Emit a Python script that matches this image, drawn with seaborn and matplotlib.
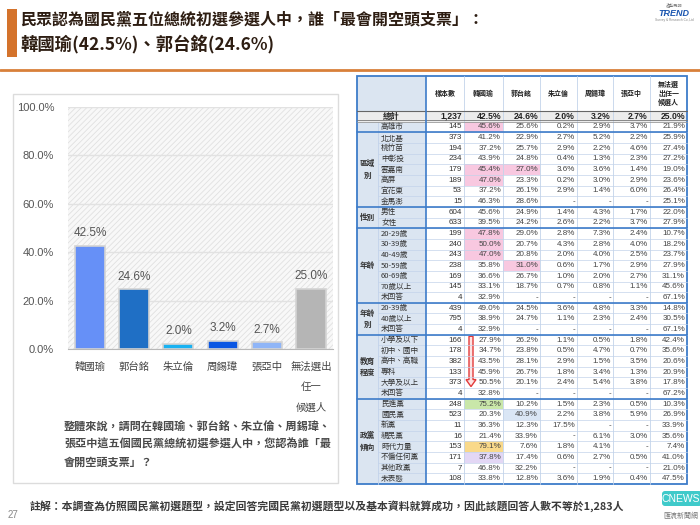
import matplotlib
matplotlib.use("Agg")
import matplotlib.pyplot as plt
import seaborn as sns
import pandas as pd
from matplotlib.patches import Rectangle, FancyBboxPatch, FancyArrow

# ---------------- data ----------------
candidates = ["韓國瑜", "郭台銘", "朱立倫", "周錫瑋", "張亞中", "無法選出\n任一\n候選人"]
shares = [42.5, 24.6, 2.0, 3.2, 2.7, 25.0]
bar_colors = ["#6690f7", "#1f6fc5", "#19b2f2", "#0b57e3", "#8fb5f7", "#b5b5b5"]
y_ticks = [0, 20, 40, 60, 80, 100]

table_header = ["樣本數", "韓國瑜", "郭台銘", "朱立倫", "周錫瑋", "張亞中", "無法選\n出任一\n候選人"]
total_n = "1,237"
group_labels = ["", "區域\n別", "性別", "年齡", "年齡\n別", "教育\n程度", "政黨\n傾向"]
group_sizes = [1, 7, 2, 7, 3, 6, 8]
row_labels = ["高雄市", "北北基", "桃竹苗", "中彰投", "雲嘉南", "高屏", "宜花東", "金馬澎",
              "男性", "女性",
              "20-29歲", "30-39歲", "40-49歲", "50-59歲", "60-69歲", "70歲以上", "未回答",
              "20-39歲", "40歲以上", "未回答",
              "小學及以下", "初中、國中", "高中、高職", "專科", "大學及以上", "未回答",
              "民進黨", "國民黨", "新黨", "親民黨", "時代力量", "不偏任何黨", "其他政黨", "未表態"]
sample_n = [145, 373, 194, 234, 179, 189, 53, 15,
            604, 633,
            199, 240, 243, 238, 169, 145, 4,
            439, 795, 4,
            166, 178, 382, 133, 373, 4,
            248, 523, 11, 16, 153, 171, 7, 108]
pct_han = [45.6, 41.2, 37.2, 43.9, 45.4, 47.0, 37.2, 46.3,
           45.6, 39.5,
           47.8, 50.0, 47.0, 35.8, 36.6, 33.1, 32.9,
           49.0, 38.9, 32.9,
           27.9, 34.7, 43.5, 45.9, 50.5, 32.8,
           75.2, 20.3, 36.3, 21.4, 79.1, 37.8, 46.8, 33.8]
pct_guo = [25.6, 22.9, 25.7, 24.8, 27.0, 23.3, 26.1, 28.6,
           24.9, 24.2,
           29.0, 20.7, 20.8, 31.0, 26.7, 18.7, None,
           24.5, 24.7, None,
           26.2, 23.8, 28.1, 26.7, 20.1, None,
           10.2, 40.9, 12.3, 33.9, 7.6, 17.4, 32.2, 12.8]
pct_zhu = [0.2, 2.7, 2.9, 0.4, 3.6, 0.2, 2.9, None,
           1.4, 2.6,
           2.8, 4.3, 2.0, 0.6, 1.0, 0.7, None,
           3.6, 1.1, None,
           1.1, 0.5, 2.9, 1.8, 2.4, None,
           1.5, 2.2, 17.5, None, 1.8, 0.6, None, 3.6]
pct_zhou = [2.9, 5.2, 2.2, 1.3, 3.6, 3.0, 1.4, None,
            4.3, 2.2,
            7.3, 2.8, 4.0, 1.7, 2.0, 0.8, None,
            4.8, 2.3, None,
            0.5, 4.7, 1.5, 3.4, 5.4, None,
            2.3, 3.8, None, 6.1, 4.1, 2.7, None, 1.9]
pct_zhang = [3.7, 2.2, 4.6, 2.3, 1.4, 2.9, 6.0, None,
             1.7, 3.7,
             2.4, 4.0, 2.5, 2.9, 2.7, 1.1, None,
             3.3, 2.4, None,
             1.8, 0.7, 3.5, 1.3, 3.8, None,
             0.5, 5.9, None, 3.0, None, 0.5, None, 0.4]
pct_none = [21.9, 25.9, 27.4, 27.2, 19.0, 23.6, 26.4, 25.1,
            22.0, 27.9,
            10.7, 18.2, 23.7, 27.9, 31.1, 45.6, 67.1,
            14.8, 30.5, 67.1,
            42.4, 35.6, 20.6, 20.9, 17.8, 67.2,
            10.3, 26.9, 33.9, 35.6, 7.4, 41.0, 21.0, 47.5]
# highlighted cells: (row index, percentage column index) -> colour
highlights = {(0, 0): "#f8c8e0", (4, 0): "#f8c8e0", (4, 1): "#f8c8e0", (5, 0): "#f8c8e0",
              (10, 0): "#f8c8e0", (11, 0): "#f8c8e0", (12, 0): "#f8c8e0", (13, 1): "#f8c8e0",
              (26, 0): "#c9e7a9", (27, 1): "#dae6f5", (30, 0): "#f9d98a", (31, 0): "#e3d7f5"}

title_1 = "民眾認為國民黨五位總統初選參選人中，誰「最會開空頭支票」："
title_2 = "韓國瑜(42.5%)、郭台銘(24.6%)"
question = ["整體來說，請問在韓國瑜、郭台銘、朱立倫、周錫瑋、",
            "張亞中這五個國民黨總統初選參選人中，您認為誰「最",
            "會開空頭支票」？"]
footnote = "註解：本調查為仿照國民黨初選題型，設定回答完國民黨初選題型以及基本資料就算成功，因此該題回答人數不等於1,283人"

# ---------------- style ----------------
sns.set_style("white")
CJK = "Noto Sans CJK TC"
plt.rcParams["font.family"] = ["Liberation Sans", CJK, "DejaVu Sans"]
plt.rcParams["hatch.linewidth"] = 0.6

W, H = 700, 525
fig = plt.figure(figsize=(W / 100, H / 100), dpi=100)

# overlay axes in pixel coordinates
ov = fig.add_axes([0, 0, 1, 1])
ov.set_xlim(0, W)
ov.set_ylim(H, 0)
ov.axis("off")

# title decoration
ov.add_patch(Rectangle((7, 9), 10, 48, color="#d4732c", lw=0))
ov.plot([0, W], [69.5, 69.5], color="#d8803a", lw=2)
ov.text(20, 19, title_1, fontsize=11.5, fontweight="bold", family=[CJK], color="#2d1d12",
        va="center", ha="left")
ov.text(20, 44, title_2, fontsize=12.5, fontweight="bold", family=[CJK], color="#2d1d12",
        va="center", ha="left")

# logos
ov.text(674, 13, "TREND", fontsize=6.5, fontweight="bold", style="italic", color="#1b56b0",
        ha="center", va="center")
ov.text(674, 5, "趨勢民調", fontsize=3, family=[CJK], color="#777", ha="center", va="center")
ov.text(674, 20, "Survey & Research Co.,Ltd", fontsize=2.3, color="#888", ha="center", va="center")
ov.add_patch(FancyBboxPatch((662, 491), 40, 15, boxstyle="round,pad=0,rounding_size=3",
                            facecolor="#3fcaca", edgecolor="none"))
ov.text(681, 498.5, "CNEWS", fontsize=7.5, color="white", ha="center", va="center")
ov.text(681, 516, "匯流新聞網", fontsize=5, family=[CJK], color="#777", ha="center", va="center")

# left panel frame
ov.add_patch(Rectangle((13, 94), 325, 389, facecolor="none", edgecolor="#dcdcdc", lw=1))

# question text
for i, line in enumerate(question):
    ov.text(64, 427 + i * 17.5, line, fontsize=8, fontweight="bold", family=[CJK],
            color="#4a4a4a", ha="left", va="center")

# footnote & page number
ov.text(30, 506, footnote, fontsize=7.8, fontweight="bold", family=[CJK], color="#3a3a3a",
        ha="left", va="center")
ov.text(8, 515, "27", fontsize=7, color="#888", ha="left", va="center")

# ---------------- table ----------------
col_x = [357, 378, 426, 464, 503, 540, 577, 613, 650, 687]
top_hdr, top_body, bottom = 76, 111, 484
n_rows = 1 + len(row_labels)
rh = (bottom - top_body) / n_rows
blue = "#3d7cc9"
thin = "#c3d3ea"
label_bg = "#dbe5f1"

def ry(i):  # top of body row i (0 = 總計)
    return top_body + i * rh

# backgrounds
ov.add_patch(Rectangle((col_x[0], top_hdr), col_x[2] - col_x[0], top_body - top_hdr,
                       facecolor=label_bg, lw=0))
ov.add_patch(Rectangle((col_x[0], ry(0)), col_x[-1] - col_x[0], rh, facecolor="#ececec", lw=0))
ov.add_patch(Rectangle((col_x[0], ry(1)), col_x[2] - col_x[0], bottom - ry(1),
                       facecolor=label_bg, lw=0))
for (r, c), colr in highlights.items():
    ov.add_patch(Rectangle((col_x[3 + c], ry(r + 1)), col_x[4 + c] - col_x[3 + c], rh,
                           facecolor=colr, lw=0))

# thin lines
for i in range(2, n_rows):
    ov.plot([col_x[1], col_x[-1]], [ry(i), ry(i)], color=thin, lw=0.5)
for x in col_x[3:-1]:
    ov.plot([x, x], [top_hdr, bottom], color=thin, lw=0.6)
ov.plot([col_x[1], col_x[1]], [ry(1), bottom], color=thin, lw=0.6)

# group separators
cum = 1
for g in group_sizes[:-1]:
    cum += g
    ov.plot([col_x[0], col_x[-1]], [ry(cum), ry(cum)], color=blue, lw=1.2)
ov.plot([col_x[0], col_x[-1]], [top_body, top_body], color="#666", lw=0.8)
ov.plot([col_x[0], col_x[-1]], [ry(1) - 1.2, ry(1) - 1.2], color="#777", lw=0.6)
ov.plot([col_x[0], col_x[-1]], [ry(1) + 0.3, ry(1) + 0.3], color="#999", lw=0.6)
ov.plot([col_x[2], col_x[2]], [top_hdr, bottom], color=blue, lw=1.2)
ov.add_patch(Rectangle((col_x[0], top_hdr), col_x[-1] - col_x[0], bottom - top_hdr,
                       facecolor="none", edgecolor=blue, lw=1.3))

# header text
for j, h in enumerate(table_header):
    ov.text((col_x[2 + j] + col_x[3 + j]) / 2, (top_hdr + top_body) / 2, h, fontsize=5,
            fontweight="bold", family=[CJK], color="#222", ha="center", va="center",
            linespacing=1.25)

# total row
ov.text((col_x[0] + col_x[2]) / 2, ry(0) + rh / 2, "總計", fontsize=6, fontweight="bold",
        family=[CJK], color="#222", ha="center", va="center")
total_vals = [total_n] + [f"{v:.1f}%" for v in shares]
for j, v in enumerate(total_vals):
    ov.text(col_x[3 + j] - 2, ry(0) + rh / 2, v, fontsize=6.2, fontweight="bold",
            color="#222", ha="right", va="center")

# group labels
start = 1
for lab, g in zip(group_labels, group_sizes):
    if lab:
        ov.text((col_x[0] + col_x[1]) / 2, ry(start) + g * rh / 2, lab, fontsize=5.5,
                fontweight="bold", family=[CJK], color="#333", ha="center", va="center",
                linespacing=1.35)
    start += g

# body rows
pct_cols = [pct_han, pct_guo, pct_zhu, pct_zhou, pct_zhang, pct_none]
for i, lab in enumerate(row_labels):
    yc = ry(i + 1) + rh / 2
    ov.text(col_x[1] + 3, yc, lab, fontsize=5.5, family=[CJK], color="#333",
            ha="left", va="center")
    ov.text(col_x[3] - 2, yc, f"{sample_n[i]}", fontsize=5.8, color="#333",
            ha="right", va="center")
    for j, col in enumerate(pct_cols):
        v = col[i]
        s = "-" if v is None else f"{v:.1f}%"
        ov.text(col_x[4 + j] - 2, yc, s, fontsize=5.8, color="#444", ha="right", va="center")

# red arrow over the education rows
edu_start = 1 + sum(group_sizes[:5])
ov.add_patch(FancyArrow(471, ry(edu_start) + 1.5, 0, 5 * rh - 3, width=4, head_width=10,
                        head_length=7, length_includes_head=True, facecolor="#fde3e3",
                        edgecolor="#e23a3a", lw=1))

# ---------------- bar chart ----------------
ax = fig.add_axes([68 / W, 1 - 349 / H, 265 / W, 242 / H])
ax.patch.set_alpha(0)
ax.add_patch(Rectangle((0, 0), 1, 1, transform=ax.transAxes, facecolor="#f8f8f8",
                       edgecolor="#e0e0e0", hatch="//////", lw=0, zorder=0))
df = pd.DataFrame({"candidate": candidates, "share": shares})
sns.barplot(data=df, x="candidate", y="share", hue="candidate", palette=bar_colors,
            saturation=1, legend=False, width=0.68, edgecolor="#d4d4d4", linewidth=1.2,
            ax=ax, zorder=3)
for cont in ax.containers:
    ax.bar_label(cont, fmt="%.1f%%", padding=5, fontsize=8.5, color="#555")
ax.set_ylim(0, 100)
ax.set_yticks(y_ticks)
ax.set_yticklabels([f"{t:.1f}%" for t in y_ticks], fontsize=8, color="#555")
ax.yaxis.grid(True, color="#e2e2e2", lw=1, zorder=1)
ax.set_axisbelow(True)
ax.set_xlabel("")
ax.set_ylabel("")
for s in ["top", "right", "left"]:
    ax.spines[s].set_visible(False)
ax.spines["bottom"].set_color("#b8b8b8")
ax.tick_params(axis="both", length=0)
ax.tick_params(axis="x", pad=9)
ax.tick_params(axis="y", pad=10)
for t in ax.get_xticklabels():
    t.set_fontsize(7.5)
    t.set_color("#444")
    t.set_family([CJK])
    t.set_linespacing(2.3)

fig.savefig("out.png", dpi=100)
